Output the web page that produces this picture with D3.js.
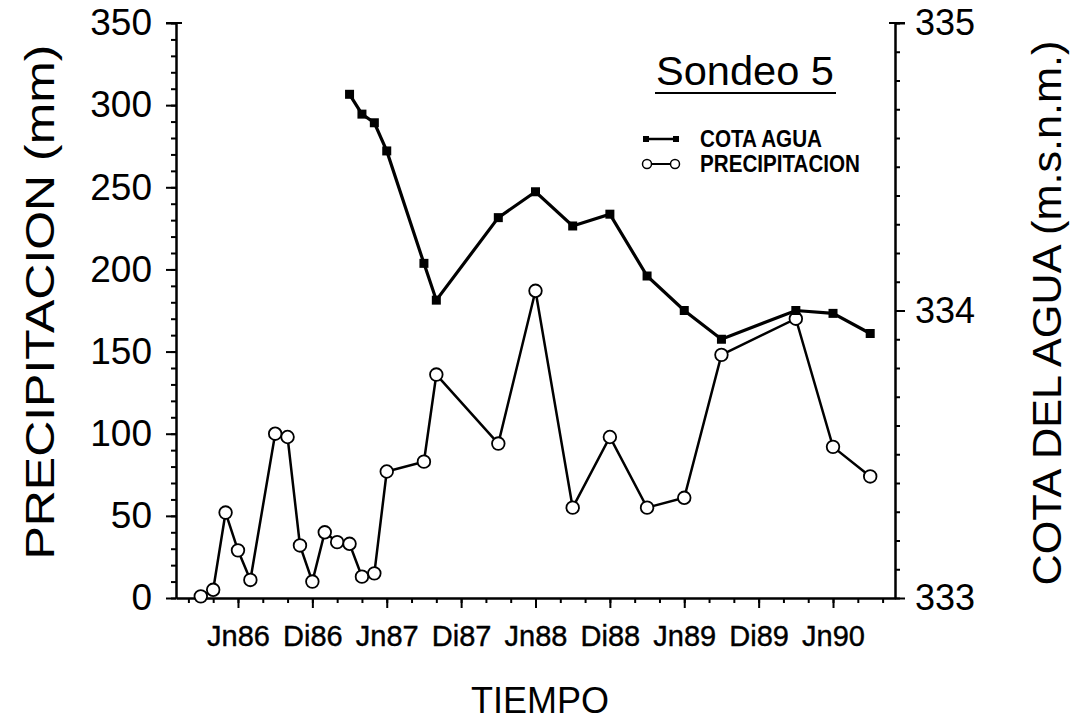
<!DOCTYPE html>
<html>
<head>
<meta charset="utf-8">
<script src="https://cdn.jsdelivr.net/npm/d3@7"></script>
<style>
  html, body { margin: 0; padding: 0; background: #fff; }
  svg { display: block; }
  text { font-family: "Liberation Sans", Arial, Helvetica, sans-serif; fill: #000; }
</style>
</head>
<body>
<svg id="chart" width="1085" height="728"></svg>
<script>
// ---- Data (months as "YYYY-MM") ----
const precipDates = ["1986-03","1986-04","1986-05","1986-06","1986-07","1986-09","1986-10","1986-11","1986-12",
  "1987-01","1987-02","1987-03","1987-04","1987-05","1987-06","1987-09","1987-10",
  "1988-03","1988-06","1988-09","1988-12","1989-03","1989-06","1989-09","1990-03","1990-06","1990-09"];
const precipValues = [1,5,52,29,11,100,98,32,10,40,34,33,13,15,77,83,136,94,187,55,98,55,61,148,170,92,74];

const cotaDates = ["1987-03","1987-04","1987-05","1987-06","1987-09","1987-10","1988-03","1988-06","1988-09",
  "1988-12","1989-03","1989-06","1989-09","1990-03","1990-06","1990-09"];
const cotaValues = [334.752,334.683,334.653,334.555,334.164,334.036,334.323,334.413,334.294,
  334.335,334.120,334.000,333.900,334.000,333.990,333.920];

const xTickDates = ["1986-06","1986-12","1987-06","1987-12","1988-06","1988-12","1989-06","1989-12","1990-06"];
const xTickLabels = ["Jn86","Di86","Jn87","Di87","Jn88","Di88","Jn89","Di89","Jn90"];
const xDomain = ["1986-01","1990-11"];
const precipTicks = [0,50,100,150,200,250,300,350];
const cotaTicks = [333,334,335];

// ---- Helpers ----
const monthIndex = s => { const [y,m] = s.split("-").map(Number); return (y-1986)*12 + (m-1); };

const svg = d3.select("#chart");
const L = 176, R = 895, T = 23, B = 598;

const x = d3.scaleLinear().domain(xDomain.map(monthIndex)).range([L, R]);
const yP = d3.scaleLinear().domain([0, 350]).range([B, T]);
const yC = d3.scaleLinear().domain([333, 335]).range([B, T]);

// ---- Axes ----
const styleAxis = g => {
  g.select(".domain").attr("stroke", "#000").attr("stroke-width", 2);
  g.selectAll(".tick line").attr("stroke", "#000").attr("stroke-width", 2);
};

// X minor ticks (every 2 months)
const minorMonths = d3.range(monthIndex(xDomain[0]) + 1, monthIndex(xDomain[1]), 2);
svg.append("g").attr("transform", `translate(0,${B})`)
  .call(d3.axisBottom(x).tickValues(minorMonths).tickSize(5).tickSizeOuter(0).tickFormat(""))
  .call(styleAxis);
// X major ticks
const gx = svg.append("g").attr("transform", `translate(0,${B})`)
  .call(d3.axisBottom(x).tickValues(xTickDates.map(monthIndex)).tickSize(10).tickSizeOuter(0)
    .tickFormat((d, i) => xTickLabels[i]).tickPadding(17))
  .call(styleAxis);
gx.selectAll(".tick text").attr("font-size", 29).attr("font-family", "Liberation Sans, Arial, sans-serif")
  .attr("dy", "0.71em").attr("stroke", "#000").attr("stroke-width", 0.4);

// Left minor
svg.append("g").attr("transform", `translate(${L},0)`)
  .call(d3.axisLeft(yP).tickValues(d3.range(0, 351, 10)).tickSize(5).tickSizeOuter(0).tickFormat(""))
  .call(styleAxis);
// Left major
const gl = svg.append("g").attr("transform", `translate(${L},0)`)
  .call(d3.axisLeft(yP).tickValues(precipTicks).tickSize(10).tickSizeOuter(0).tickPadding(14))
  .call(styleAxis);
gl.selectAll(".tick text").attr("font-size", 37).attr("font-family", "Liberation Sans, Arial, sans-serif");
// top end cap
svg.append("line").attr("x1", L - 10).attr("x2", L + 6).attr("y1", yP(350)).attr("y2", yP(350))
  .attr("stroke", "#000").attr("stroke-width", 2);

// Right minor
svg.append("g").attr("transform", `translate(${R},0)`)
  .call(d3.axisRight(yC).tickValues(d3.range(0, 21).map(i => 333 + i / 10)).tickSize(5).tickSizeOuter(0).tickFormat(""))
  .call(styleAxis);
// Right major
const gr = svg.append("g").attr("transform", `translate(${R},0)`)
  .call(d3.axisRight(yC).tickValues(cotaTicks).tickSize(10).tickSizeOuter(0).tickPadding(10).tickFormat(d3.format("d")))
  .call(styleAxis);
gr.selectAll(".tick text").attr("font-size", 36).attr("font-family", "Liberation Sans, Arial, sans-serif");
svg.append("line").attr("x1", R - 6).attr("x2", R + 10).attr("y1", yC(335)).attr("y2", yC(335))
  .attr("stroke", "#000").attr("stroke-width", 2);

// ---- Series ----
const precip = precipDates.map((d, i) => ({ m: monthIndex(d), v: precipValues[i] }));
const cota = cotaDates.map((d, i) => ({ m: monthIndex(d), v: cotaValues[i] }));

svg.append("path").datum(precip)
  .attr("d", d3.line().x(d => x(d.m)).y(d => yP(d.v)))
  .attr("fill", "none").attr("stroke", "#000").attr("stroke-width", 2.5);
svg.append("path").datum(cota)
  .attr("d", d3.line().x(d => x(d.m)).y(d => yC(d.v)))
  .attr("fill", "none").attr("stroke", "#000").attr("stroke-width", 3.2);

svg.selectAll("circle.p").data(precip).join("circle").attr("class", "p")
  .attr("cx", d => x(d.m)).attr("cy", d => yP(d.v)).attr("r", 6.3)
  .attr("fill", "#fff").attr("stroke", "#000").attr("stroke-width", 1.8);
svg.selectAll("rect.c").data(cota).join("rect").attr("class", "c")
  .attr("x", d => x(d.m) - 4.5).attr("y", d => yC(d.v) - 4.5).attr("width", 9).attr("height", 9)
  .attr("fill", "#000");

// ---- Titles ----
svg.append("text").attr("x", 540).attr("y", 713).attr("text-anchor", "middle")
  .attr("font-size", 36).text("TIEMPO");
svg.append("text").attr("transform", "translate(54,302) rotate(-90)").attr("text-anchor", "middle")
  .attr("font-size", 41).attr("textLength", 515).attr("lengthAdjust", "spacingAndGlyphs")
  .text("PRECIPITACION (mm)");
svg.append("text").attr("transform", "translate(1061,313) rotate(-90)").attr("text-anchor", "middle")
  .attr("font-size", 41).attr("textLength", 545).attr("lengthAdjust", "spacingAndGlyphs")
  .text("COTA DEL AGUA (m.s.n.m.)");

// Legend title
svg.append("text").attr("x", 745).attr("y", 85).attr("text-anchor", "middle")
  .attr("font-size", 40).attr("textLength", 178).attr("lengthAdjust", "spacingAndGlyphs").text("Sondeo 5");
svg.append("line").attr("x1", 655).attr("x2", 836).attr("y1", 93).attr("y2", 93)
  .attr("stroke", "#000").attr("stroke-width", 2);

// Legend entries
const lg = svg.append("g");
lg.append("line").attr("x1", 646).attr("x2", 676).attr("y1", 139).attr("y2", 139).attr("stroke", "#000").attr("stroke-width", 2.5);
lg.append("rect").attr("x", 643).attr("y", 136).attr("width", 6).attr("height", 6).attr("fill", "#000");
lg.append("rect").attr("x", 673).attr("y", 136).attr("width", 6).attr("height", 6).attr("fill", "#000");
lg.append("text").attr("x", 700).attr("y", 147).attr("font-size", 23).attr("font-weight", "bold")
  .attr("textLength", 122).attr("lengthAdjust", "spacingAndGlyphs").text("COTA AGUA");

lg.append("line").attr("x1", 650).attr("x2", 672).attr("y1", 164).attr("y2", 164).attr("stroke", "#000").attr("stroke-width", 2);
lg.append("circle").attr("cx", 647).attr("cy", 164).attr("r", 4.5).attr("fill", "#fff").attr("stroke", "#000").attr("stroke-width", 1.5);
lg.append("circle").attr("cx", 675).attr("cy", 164).attr("r", 4.5).attr("fill", "#fff").attr("stroke", "#000").attr("stroke-width", 1.5);
lg.append("text").attr("x", 700).attr("y", 172).attr("font-size", 23).attr("font-weight", "bold")
  .attr("textLength", 160).attr("lengthAdjust", "spacingAndGlyphs").text("PRECIPITACION");
</script>
</body>
</html>
